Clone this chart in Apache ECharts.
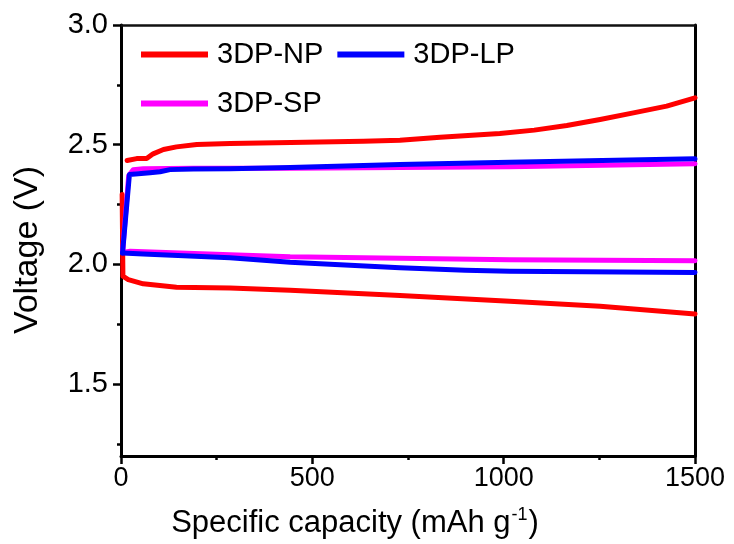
<!DOCTYPE html>
<html>
<head>
<meta charset="utf-8">
<script src="https://cdn.jsdelivr.net/npm/echarts@6/dist/echarts.min.js"></script>
<style>
  html, body { margin: 0; padding: 0; background: #fff; }
  #chart { width: 734px; height: 544px; }
</style>
</head>
<body>
<div id="chart"></div>
<script>
// Galvanostatic charge/discharge profiles, [capacity (mAh/g), voltage (V)]
const npCharge = [[16,2.434],[41,2.442],[67,2.442],[84,2.462],[111,2.480],[145,2.491],[198,2.501],[285,2.505],[444,2.509],[633,2.515],[729,2.519],[834,2.531],[990,2.547],[1080,2.561],[1165,2.580],[1252,2.605],[1339,2.633],[1426,2.661],[1500,2.696]];
const npDischarge = [[3,2.292],[5,1.951],[19,1.937],[58,1.919],[145,1.905],[285,1.902],[442,1.892],[729,1.870],[1016,1.846],[1252,1.825],[1500,1.793]];
const lpCharge = [[4,2.048],[22,2.376],[76,2.383],[102,2.387],[128,2.396],[189,2.399],[285,2.400],[442,2.405],[729,2.417],[1016,2.427],[1500,2.441]];
const lpDischarge = [[4,2.048],[58,2.044],[285,2.028],[442,2.009],[729,1.986],[900,1.976],[1016,1.972],[1500,1.966]];
const spCharge = [[4,2.050],[20,2.370],[32,2.396],[58,2.400],[189,2.402],[442,2.402],[1016,2.408],[1500,2.421]];
const spDischarge = [[4,2.050],[24,2.055],[285,2.041],[442,2.032],[1016,2.020],[1500,2.015]];

const seriesNames = ['3DP-NP', '3DP-LP', '3DP-SP'];
const yTickValues = [1.5, 2.0, 2.5, 3.0];
const yMinorTickValues = [1.25, 1.75, 2.25, 2.75];

const FONT = 'Arial, "Liberation Sans", sans-serif';
const AXIS_COLOR = '#000';

function curve(name, data, color) {
  return {
    name: name,
    type: 'line',
    data: data,
    symbol: 'none',
    xAxisIndex: 0,
    yAxisIndex: 0,
    lineStyle: { color: color, width: 5, join: 'round', cap: 'round' },
    itemStyle: { color: color }
  };
}

const legendText = { fontFamily: FONT, fontSize: 29, color: '#000', padding: [0, 0, 0, 4] };

const chart = echarts.init(document.getElementById('chart'), null, { renderer: 'canvas' });

chart.setOption({
  animation: false,
  backgroundColor: '#fff',
  grid: { left: 121, right: 39, top: 25, bottom: 88, containLabel: false },
  legend: [
    {
      data: [seriesNames[0], seriesNames[1]],
      left: 141, top: 40, padding: 0, orient: 'horizontal',
      icon: 'rect', itemWidth: 67, itemHeight: 6, itemGap: 14,
      textStyle: legendText,
      selectedMode: false
    },
    {
      data: [seriesNames[2]],
      left: 141, top: 89, padding: 0, orient: 'horizontal',
      icon: 'rect', itemWidth: 67, itemHeight: 6,
      textStyle: legendText,
      selectedMode: false
    }
  ],
  graphic: [
    {
      type: 'text',
      x: 28, y: 250,
      rotation: Math.PI / 2,
      style: {
        text: 'Voltage (V)',
        fontFamily: FONT, fontSize: 34, fill: '#000',
        align: 'center', verticalAlign: 'middle'
      }
    }
  ],
  xAxis: [
    {
      type: 'value', position: 'bottom',
      min: 0, max: 1500, interval: 500,
      axisLine: { show: true, onZero: false, lineStyle: { color: AXIS_COLOR, width: 3 } },
      axisTick: { show: true, inside: false, length: 8, lineStyle: { color: AXIS_COLOR, width: 2.5 } },
      minorTick: { show: true, splitNumber: 2, length: 4, lineStyle: { color: AXIS_COLOR, width: 2.5 } },
      splitLine: { show: false },
      axisLabel: {
        fontFamily: FONT, fontSize: 27, color: '#000', margin: 9,
        formatter: function (v) { return String(v); }
      },
      name: '{a|Specific capacity (mAh g}{s|-1}{a|)}',
      nameLocation: 'middle', nameGap: 50,
      nameTextStyle: {
        padding: [0, 106, 0, 0],
        rich: {
          a: { fontFamily: FONT, fontSize: 31, color: '#000' },
          s: { fontFamily: FONT, fontSize: 18, color: '#000', padding: [0, 1, 16, 1] }
        }
      }
    },
    {
      type: 'value', position: 'top',
      min: 0, max: 1500, interval: 500,
      axisLine: { show: true, onZero: false, lineStyle: { color: '#111', width: 2.5 } },
      axisTick: { show: false },
      axisLabel: { show: false },
      splitLine: { show: false }
    }
  ],
  yAxis: [
    {
      type: 'value', position: 'left',
      min: 1.2, max: 3.0,
      axisLine: { show: true, onZero: false, lineStyle: { color: AXIS_COLOR, width: 3 } },
      axisTick: { show: true, inside: false, length: 8, customValues: yTickValues, lineStyle: { color: AXIS_COLOR, width: 2.5 } },
      splitLine: { show: false },
      axisLabel: {
        fontFamily: FONT, fontSize: 29, color: '#000', margin: 13,
        customValues: yTickValues,
        formatter: function (v) { return Number(v).toFixed(1); }
      }
    },
    {
      type: 'value', position: 'left',
      min: 1.2, max: 3.0,
      axisLine: { show: false },
      axisTick: { show: true, inside: false, length: 4, customValues: yMinorTickValues, lineStyle: { color: AXIS_COLOR, width: 2.5 } },
      axisLabel: { show: false },
      splitLine: { show: false }
    },
    {
      type: 'value', position: 'right',
      min: 1.2, max: 3.0,
      axisLine: { show: true, onZero: false, lineStyle: { color: AXIS_COLOR, width: 3 } },
      axisTick: { show: false },
      axisLabel: { show: false },
      splitLine: { show: false }
    }
  ],
  series: [
    curve(seriesNames[0], npCharge, '#ff0000'),
    curve(seriesNames[0], npDischarge, '#ff0000'),
    curve(seriesNames[2], spCharge, '#ff00ff'),
    curve(seriesNames[2], spDischarge, '#ff00ff'),
    curve(seriesNames[1], lpCharge, '#0000ff'),
    curve(seriesNames[1], lpDischarge, '#0000ff')
  ]
});
</script>
</body>
</html>
